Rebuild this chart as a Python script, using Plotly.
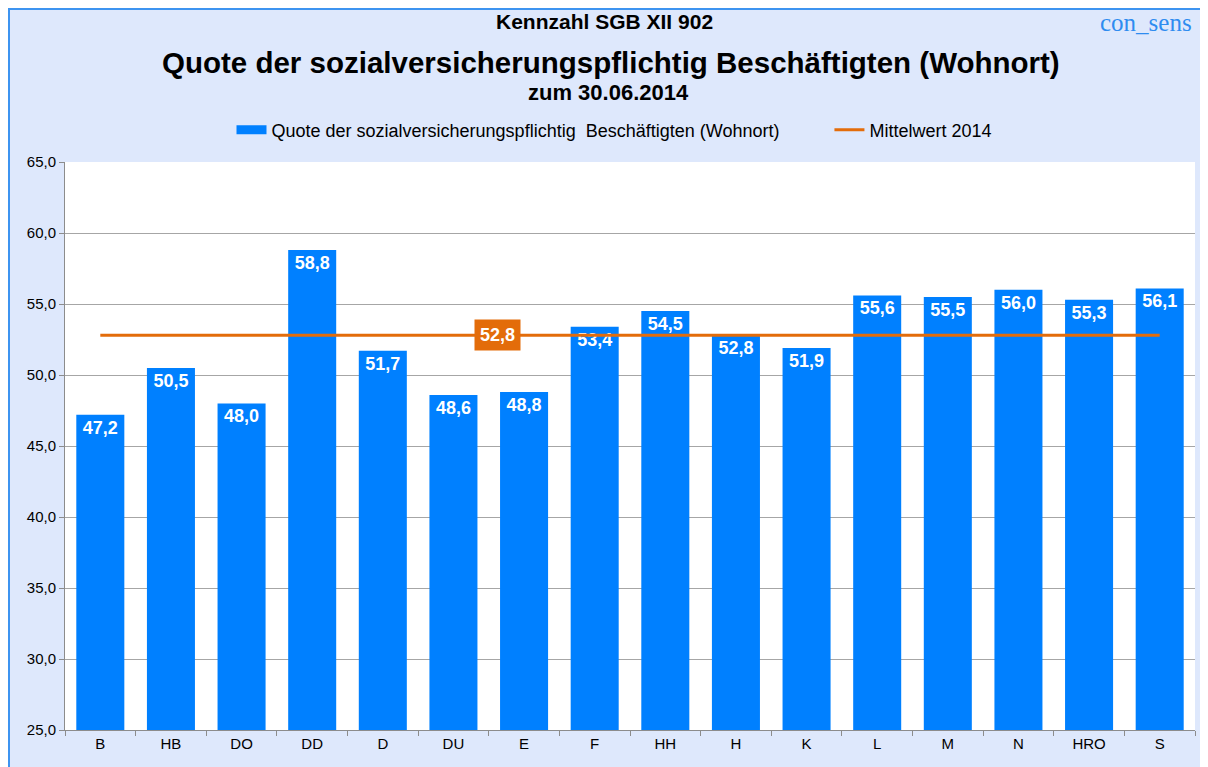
import plotly.graph_objects as go

categories = ["B", "HB", "DO", "DD", "D", "DU", "E", "F", "HH", "H", "K", "L", "M", "N", "HRO", "S"]
quote_values = [47.2, 50.5, 48.0, 58.8, 51.7, 48.6, 48.8, 53.4, 54.5, 52.8, 51.9, 55.6, 55.5, 56.0, 55.3, 56.1]
mean_value = 52.8
mean_label_category = "E"
y_ticks = [25, 30, 35, 40, 45, 50, 55, 60, 65]

bar_name = "Quote der sozialversicherungspflichtig  Beschäftigten (Wohnort)"
line_name = "Mittelwert 2014"

W, H = 1208, 767
OFF = 8  # page offset of the figure inside the browser window
ml, mr, mt, mb = 57, 21, 154, 45
pw, ph = W - ml - mr, H - mt - mb


def rx(px):
    return (px - OFF - ml) / pw


def ry(py):
    return (H - mb - (py - OFF)) / ph


BLUE = "#0080FF"
ORANGE = "#E36C0A"

fig = go.Figure()
fig.add_trace(go.Bar(
    x=categories, y=quote_values, name=bar_name, showlegend=False,
    marker=dict(color=BLUE, line=dict(width=0)),
    text=[f"{v:.1f}".replace(".", ",") for v in quote_values],
    textposition="inside", insidetextanchor="end",
    textfont=dict(family="Liberation Sans", size=18, color="white", weight="bold"),
    cliponaxis=False,
))
# legend entry for the bars drawn as a wide rectangle-like line
fig.add_trace(go.Scatter(
    x=[None], y=[None], name=bar_name + "         ", mode="lines",
    line=dict(color=BLUE, width=9), showlegend=True,
))
fig.add_trace(go.Scatter(
    x=categories, y=[mean_value] * len(categories), name=line_name,
    mode="lines", line=dict(color=ORANGE, width=3),
))

fig.add_annotation(
    x=mean_label_category, y=mean_value, xref="x", yref="y", xshift=-27,
    text=f"<b>{mean_value:.1f}</b>".replace(".", ","), showarrow=False,
    bgcolor=ORANGE, font=dict(family="Liberation Sans", size=18, color="white"),
    borderpad=5,
)

font_t = "Liberation Sans"
fig.add_annotation(x=rx(604), y=ry(21), xref="paper", yref="paper", showarrow=False,
                   text="<b>Kennzahl SGB XII 902</b>", font=dict(family=font_t, size=21, color="black"),
                   xanchor="center", yanchor="middle")
fig.add_annotation(x=rx(611), y=ry(62), xref="paper", yref="paper", showarrow=False,
                   text="<b>Quote der sozialversicherungspflichtig Beschäftigten (Wohnort)</b>",
                   font=dict(family=font_t, size=29.5, color="black"),
                   xanchor="center", yanchor="middle")
fig.add_annotation(x=rx(608), y=ry(92), xref="paper", yref="paper", showarrow=False,
                   text="<b>zum 30.06.2014</b>", font=dict(family=font_t, size=22, color="black"),
                   xanchor="center", yanchor="middle")
fig.add_annotation(x=rx(1194), y=ry(23), xref="paper", yref="paper", showarrow=False,
                   text="con_sens", font=dict(family="Liberation Serif", size=25, color="#2E8CF0"),
                   xanchor="right", yanchor="middle")

fig.add_shape(type="rect", xref="paper", yref="paper",
              x0=(1 - ml) / pw, x1=(W + 20 - ml) / pw, y0=-0.3, y1=(H - mb - 1) / ph,
              line=dict(color="#3D94F0", width=2), fillcolor="rgba(0,0,0,0)", layer="below")

fig.update_layout(
    width=W, height=H,
    margin=dict(l=ml, r=mr, t=mt, b=mb),
    paper_bgcolor="#DEE8FC", plot_bgcolor="white",
    separators=", ",
    bargap=0.32,
    showlegend=True,
    legend=dict(orientation="h", x=rx(614), xanchor="center", y=ry(130), yanchor="middle",
                font=dict(family="Liberation Sans", size=18, color="black"),
                bgcolor="rgba(0,0,0,0)", traceorder="normal", itemwidth=30),
    font=dict(family="Liberation Sans", color="black"),
)
fig.update_xaxes(
    type="category", tickson="boundaries", ticks="outside", ticklen=5, tickcolor="#8C8C8C",
    showline=True, linecolor="#8C8C8C", linewidth=1, showgrid=False,
    tickfont=dict(size=15, color="black"),
)
fig.update_yaxes(
    range=[25, 65], tickvals=y_ticks, tickformat=".1f", ticks="outside", ticklen=5,
    tickcolor="#8C8C8C", showline=True, linecolor="#8C8C8C", linewidth=1,
    gridcolor="#A6A6A6", gridwidth=1, tickfont=dict(size=15, color="black"), zeroline=False,
)

fig.write_html("out.html")
